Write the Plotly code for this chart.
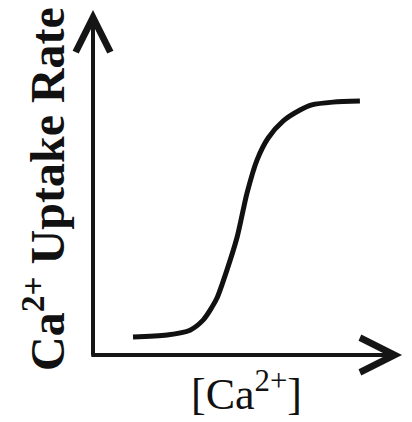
import plotly.graph_objects as go

# Data (arbitrary units): [Ca2+] concentration vs uptake rate (sigmoidal)
conc = [1.29, 2.39, 3.13, 3.55, 3.84, 4.00, 4.32, 4.65, 4.97, 5.29, 5.65, 6.13, 6.68, 7.06, 7.74, 8.61]
rate = [0.52, 0.58, 0.72, 1.01, 1.39, 1.65, 2.46, 3.42, 4.70, 5.65, 6.29, 6.78, 7.10, 7.25, 7.33, 7.36]

x_label = "[Ca<sup>2+</sup>]"
y_label = "<b>Ca<sup>2+</sup> Uptake Rate</b>"

W, H = 412, 422
OFF = 8  # page body margin offset


def px(v):
    return (v - OFF) / W


def py(v):
    return 1 - (v - OFF) / H


fig = go.Figure()
fig.add_trace(go.Scatter(
    x=conc, y=rate, mode="lines",
    line=dict(color="#111111", width=5, shape="spline", smoothing=0.8),
    hoverinfo="skip", showlegend=False,
))

axis_color = "#151515"
# x axis arrow
fig.add_annotation(x=9.97, y=0, ax=-0.1, ay=0, xref="x", yref="y", axref="x", ayref="y",
                   text="", showarrow=True, arrowhead=5, arrowsize=1.7, arrowwidth=4,
                   arrowcolor=axis_color, standoff=0)
# y axis arrow
fig.add_annotation(x=0, y=10, ax=0, ay=-0.06, xref="x", yref="y", axref="x", ayref="y",
                   text="", showarrow=True, arrowhead=5, arrowsize=1.7, arrowwidth=4,
                   arrowcolor=axis_color, standoff=0)

# axis titles
fig.add_annotation(x=px(44), y=py(189), xref="paper", yref="paper",
                   text=y_label, textangle=-90, showarrow=False,
                   xanchor="center", yanchor="middle",
                   font=dict(family="Liberation Serif", size=48, color="#111111"))
fig.add_annotation(x=px(247), y=py(391), xref="paper", yref="paper",
                   text=x_label, showarrow=False,
                   xanchor="center", yanchor="middle",
                   font=dict(family="Liberation Serif", size=44, color="#111111"))

fig.update_layout(
    width=W, height=H,
    margin=dict(l=0, r=0, t=0, b=0),
    paper_bgcolor="white", plot_bgcolor="white",
    xaxis=dict(domain=[px(93), px(403)], range=[0, 10], visible=False, fixedrange=True),
    yaxis=dict(domain=[py(355), py(10)], range=[0, 10], visible=False, fixedrange=True),
    showlegend=False,
)

fig.write_html("out.html")
